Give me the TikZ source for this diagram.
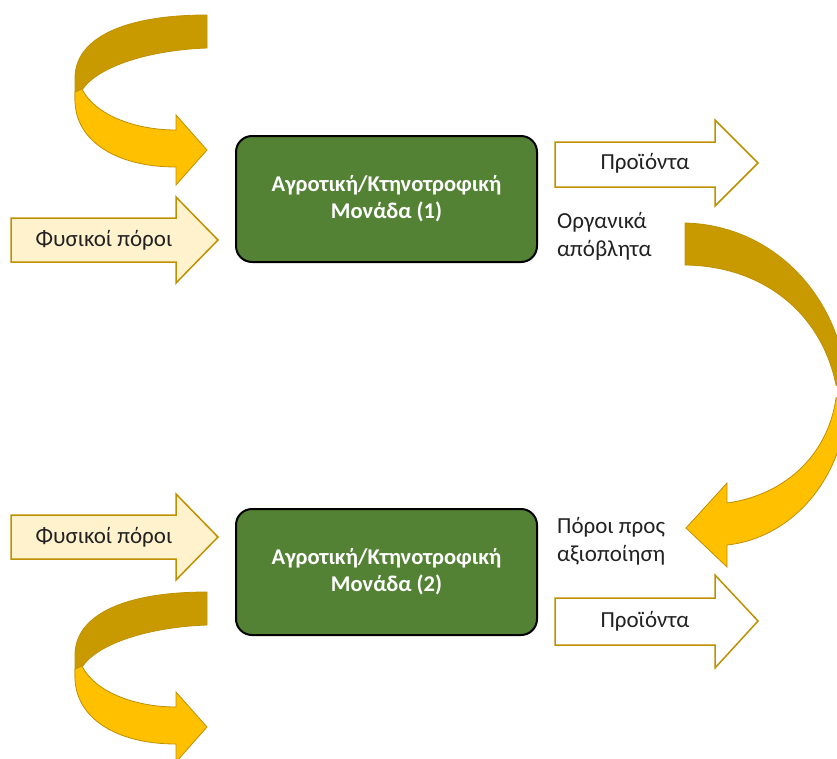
\documentclass[tikz,border=0pt]{standalone}
\usepackage{fontspec}
\setmainfont{Carlito}
\definecolor{boxgreen}{HTML}{548235}
\definecolor{goldline}{HTML}{BF9000}
\definecolor{darkgold}{HTML}{C99A00}
\definecolor{lightgold}{HTML}{FFC000}
\definecolor{paleyellow}{HTML}{FFF2CC}
\definecolor{txt}{HTML}{222222}
\begin{document}
\begin{tikzpicture}[x=1pt,y=-1pt,
  unitbox/.style={draw=black, line width=2pt, fill=boxgreen, rounded corners=16pt,
    minimum width=301pt, minimum height=126pt, text=white, align=center,
    font=\bfseries\fontsize{22.5}{27}\selectfont},
  inarrow/.style={draw=goldline, line width=1.5pt, fill=paleyellow, line join=miter},
  outarrow/.style={draw=goldline, line width=1.5pt, fill=white, line join=miter},
  backband/.style={draw=goldline, line width=0.8pt, fill=darkgold},
  frontband/.style={draw=goldline, line width=0.8pt, fill=lightgold},
  lbl/.style={text=txt, font=\fontsize{23}{28}\selectfont, inner sep=0pt}]
\useasboundingbox (0,0) rectangle (837,758);
\clip (0,0) rectangle (837,758);

% unit boxes
\node[unitbox] (u1) at (386.5,199) {Αγροτική/Κτηνοτροφική\\Μονάδα (1)};
\node[unitbox] (u2) at (386.5,572) {Αγροτική/Κτηνοτροφική\\Μονάδα (2)};

% natural resources arrows
\draw[inarrow] (11,218) -- (176,218) -- (176,197) -- (218,240) -- (176,283) -- (176,262) -- (11,262) -- cycle;
\node[lbl] (n1) at (104,240) {Φυσικοί πόροι};
\draw[inarrow] (11,515) -- (176,515) -- (176,494) -- (218,537) -- (176,580) -- (176,559) -- (11,559) -- cycle;
\node[lbl] (n2) at (104,537) {Φυσικοί πόροι};

% product arrows
\draw[outarrow] (555,142) -- (715,142) -- (715,120) -- (758,163) -- (715,206) -- (715,187) -- (555,187) -- cycle;
\node[lbl] (p1) at (645,163) {Προϊόντα};
\draw[outarrow] (555,598) -- (715,598) -- (715,575) -- (758,621) -- (715,668) -- (715,645) -- (555,645) -- cycle;
\node[lbl] (p2) at (645,621) {Προϊόντα};

% side labels
\node[lbl, align=left, anchor=west] (w) at (557,236) {Οργανικά\\απόβλητα};
\node[lbl, align=left, anchor=west] (r) at (557,541) {Πόροι προς\\αξιοποίηση};

% curved arrows on the left
\foreach \dy in {0,577}{
\begin{scope}[shift={(0,\dy)}]
\draw[backband] (207,15) -- (207,48) .. controls (150,50) and (98,66) .. (82,90)
  -- (75,100) -- (75,78) .. controls (75,40) and (120,15) .. (207,15) -- cycle;
\draw[frontband] (82,89) .. controls (95,115) and (135,130) .. (176,130) -- (176,115)
  -- (207,150) -- (176,185) -- (176,167) .. controls (115,167) and (75,140) .. (75,100)
  -- (75,92) -- cycle;
\end{scope}}

% large curved arrow on the right
\draw[backband] (685,223) .. controls (772,225) and (842,295) .. (848,392)
  -- (836,385) .. controls (822,315) and (765,266) .. (685,265) -- cycle;
\draw[frontband] (848,395) .. controls (846,478) and (792,538) .. (727,545)
  -- (727,567) -- (686,528) -- (727,483) -- (727,503)
  .. controls (785,495) and (828,455) .. (836,398) -- cycle;
\end{tikzpicture}
\end{document}
